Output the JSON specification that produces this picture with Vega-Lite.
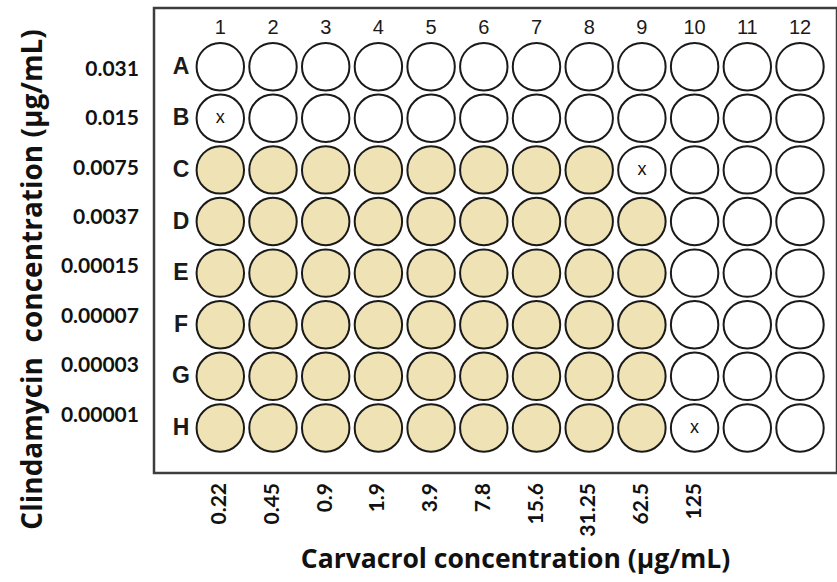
{
  "$schema": "https://vega.github.io/schema/vega-lite/v6.json",
  "width": 683,
  "height": 465,
  "autosize": {"type": "none"},
  "padding": {"left": 154, "top": 8, "right": 0, "bottom": 109},
  "background": "white",
  "config": {
    "view": {"stroke": "#3d3d3d", "strokeWidth": 2.5}
  },
  "datasets": {
    "wells": [
      {"row": 1, "col": 1, "state": "clear"}, {"row": 1, "col": 2, "state": "clear"}, {"row": 1, "col": 3, "state": "clear"}, {"row": 1, "col": 4, "state": "clear"}, {"row": 1, "col": 5, "state": "clear"}, {"row": 1, "col": 6, "state": "clear"}, {"row": 1, "col": 7, "state": "clear"}, {"row": 1, "col": 8, "state": "clear"}, {"row": 1, "col": 9, "state": "clear"}, {"row": 1, "col": 10, "state": "clear"}, {"row": 1, "col": 11, "state": "clear"}, {"row": 1, "col": 12, "state": "clear"},
      {"row": 2, "col": 1, "state": "clear", "note": "x"}, {"row": 2, "col": 2, "state": "clear"}, {"row": 2, "col": 3, "state": "clear"}, {"row": 2, "col": 4, "state": "clear"}, {"row": 2, "col": 5, "state": "clear"}, {"row": 2, "col": 6, "state": "clear"}, {"row": 2, "col": 7, "state": "clear"}, {"row": 2, "col": 8, "state": "clear"}, {"row": 2, "col": 9, "state": "clear"}, {"row": 2, "col": 10, "state": "clear"}, {"row": 2, "col": 11, "state": "clear"}, {"row": 2, "col": 12, "state": "clear"},
      {"row": 3, "col": 1, "state": "growth"}, {"row": 3, "col": 2, "state": "growth"}, {"row": 3, "col": 3, "state": "growth"}, {"row": 3, "col": 4, "state": "growth"}, {"row": 3, "col": 5, "state": "growth"}, {"row": 3, "col": 6, "state": "growth"}, {"row": 3, "col": 7, "state": "growth"}, {"row": 3, "col": 8, "state": "growth"}, {"row": 3, "col": 9, "state": "clear", "note": "x"}, {"row": 3, "col": 10, "state": "clear"}, {"row": 3, "col": 11, "state": "clear"}, {"row": 3, "col": 12, "state": "clear"},
      {"row": 4, "col": 1, "state": "growth"}, {"row": 4, "col": 2, "state": "growth"}, {"row": 4, "col": 3, "state": "growth"}, {"row": 4, "col": 4, "state": "growth"}, {"row": 4, "col": 5, "state": "growth"}, {"row": 4, "col": 6, "state": "growth"}, {"row": 4, "col": 7, "state": "growth"}, {"row": 4, "col": 8, "state": "growth"}, {"row": 4, "col": 9, "state": "growth"}, {"row": 4, "col": 10, "state": "clear"}, {"row": 4, "col": 11, "state": "clear"}, {"row": 4, "col": 12, "state": "clear"},
      {"row": 5, "col": 1, "state": "growth"}, {"row": 5, "col": 2, "state": "growth"}, {"row": 5, "col": 3, "state": "growth"}, {"row": 5, "col": 4, "state": "growth"}, {"row": 5, "col": 5, "state": "growth"}, {"row": 5, "col": 6, "state": "growth"}, {"row": 5, "col": 7, "state": "growth"}, {"row": 5, "col": 8, "state": "growth"}, {"row": 5, "col": 9, "state": "growth"}, {"row": 5, "col": 10, "state": "clear"}, {"row": 5, "col": 11, "state": "clear"}, {"row": 5, "col": 12, "state": "clear"},
      {"row": 6, "col": 1, "state": "growth"}, {"row": 6, "col": 2, "state": "growth"}, {"row": 6, "col": 3, "state": "growth"}, {"row": 6, "col": 4, "state": "growth"}, {"row": 6, "col": 5, "state": "growth"}, {"row": 6, "col": 6, "state": "growth"}, {"row": 6, "col": 7, "state": "growth"}, {"row": 6, "col": 8, "state": "growth"}, {"row": 6, "col": 9, "state": "growth"}, {"row": 6, "col": 10, "state": "clear"}, {"row": 6, "col": 11, "state": "clear"}, {"row": 6, "col": 12, "state": "clear"},
      {"row": 7, "col": 1, "state": "growth"}, {"row": 7, "col": 2, "state": "growth"}, {"row": 7, "col": 3, "state": "growth"}, {"row": 7, "col": 4, "state": "growth"}, {"row": 7, "col": 5, "state": "growth"}, {"row": 7, "col": 6, "state": "growth"}, {"row": 7, "col": 7, "state": "growth"}, {"row": 7, "col": 8, "state": "growth"}, {"row": 7, "col": 9, "state": "growth"}, {"row": 7, "col": 10, "state": "clear"}, {"row": 7, "col": 11, "state": "clear"}, {"row": 7, "col": 12, "state": "clear"},
      {"row": 8, "col": 1, "state": "growth"}, {"row": 8, "col": 2, "state": "growth"}, {"row": 8, "col": 3, "state": "growth"}, {"row": 8, "col": 4, "state": "growth"}, {"row": 8, "col": 5, "state": "growth"}, {"row": 8, "col": 6, "state": "growth"}, {"row": 8, "col": 7, "state": "growth"}, {"row": 8, "col": 8, "state": "growth"}, {"row": 8, "col": 9, "state": "growth"}, {"row": 8, "col": 10, "state": "clear", "note": "x"}, {"row": 8, "col": 11, "state": "clear"}, {"row": 8, "col": 12, "state": "clear"}
    ],
    "rows": [
      {"row": 1, "letter": "A", "clindamycin": "0.031"},
      {"row": 2, "letter": "B", "clindamycin": "0.015"},
      {"row": 3, "letter": "C", "clindamycin": "0.0075"},
      {"row": 4, "letter": "D", "clindamycin": "0.0037"},
      {"row": 5, "letter": "E", "clindamycin": "0.00015"},
      {"row": 6, "letter": "F", "clindamycin": "0.00007"},
      {"row": 7, "letter": "G", "clindamycin": "0.00003"},
      {"row": 8, "letter": "H", "clindamycin": "0.00001"}
    ],
    "cols": [
      {"col": 1, "carvacrol": "0.22"},
      {"col": 2, "carvacrol": "0.45"},
      {"col": 3, "carvacrol": "0.9"},
      {"col": 4, "carvacrol": "1.9"},
      {"col": 5, "carvacrol": "3.9"},
      {"col": 6, "carvacrol": "7.8"},
      {"col": 7, "carvacrol": "15.6"},
      {"col": 8, "carvacrol": "31.25"},
      {"col": 9, "carvacrol": "62.5"},
      {"col": 10, "carvacrol": "125"},
      {"col": 11, "carvacrol": ""},
      {"col": 12, "carvacrol": ""}
    ]
  },
  "resolve": {"scale": {"y": "independent"}},
  "layer": [
    {
      "layer": [
        {
          "data": {"name": "wells"},
          "mark": {"type": "point", "shape": "circle", "filled": true, "size": 2250, "stroke": "#1a1a1a", "strokeWidth": 2, "opacity": 1},
          "encoding": {
            "x": {
              "field": "col", "type": "quantitative",
              "scale": {"domain": [-0.258, 12.702], "nice": false, "zero": false},
              "axis": {
                "title": "Carvacrol concentration (μg/mL)",
                "labels": false, "ticks": false, "domain": false, "grid": false,
                "titleX": 361, "titleY": 86, "titleAlign": "center", "titleBaseline": "middle",
                "titleFont": "Open Sans", "titleFontSize": 26.5, "titleFontWeight": "bold", "titleColor": "#111111"
              }
            },
            "y": {
              "field": "row", "type": "quantitative",
              "scale": {"domain": [-0.137, 8.873], "nice": false, "zero": false, "reverse": true},
              "axis": {
                "title": "Clindamycin\u00a0 concentration (μg/mL)",
                "labels": false, "ticks": false, "domain": false, "grid": false,
                "titleX": -121, "titleY": 271, "titleAngle": -90, "titleAlign": "center", "titleBaseline": "middle",
                "titleFont": "Open Sans", "titleFontSize": 28, "titleFontWeight": "bold", "titleColor": "#111111"
              }
            },
            "fill": {
              "field": "state", "type": "nominal",
              "scale": {"domain": ["growth", "clear"], "range": ["#efe2b4", "#ffffff"]},
              "legend": null
            }
          }
        },
        {
          "data": {"name": "wells"},
          "transform": [{"filter": "isValid(datum.note)"}],
          "mark": {"type": "text", "font": "Liberation Sans", "fontSize": 18, "color": "#111111", "baseline": "middle"},
          "encoding": {
            "x": {"field": "col", "type": "quantitative"},
            "y": {"field": "row", "type": "quantitative"},
            "text": {"field": "note"}
          }
        },
        {
          "data": {"name": "cols"},
          "mark": {"type": "text", "font": "Liberation Sans", "fontSize": 20, "color": "#1a1a1a", "baseline": "middle"},
          "encoding": {
            "x": {"field": "col", "type": "quantitative"},
            "y": {"datum": 0.25, "type": "quantitative"},
            "text": {"field": "col", "type": "quantitative"}
          }
        },
        {
          "data": {"name": "rows"},
          "mark": {"type": "text", "font": "Liberation Sans", "fontSize": 23, "fontWeight": "bold", "color": "#1a1a1a", "baseline": "middle"},
          "encoding": {
            "x": {"datum": 0.254, "type": "quantitative"},
            "y": {"field": "row", "type": "quantitative"},
            "text": {"field": "letter"}
          }
        },
        {
          "data": {"name": "cols"},
          "mark": {"type": "text", "font": "Lato", "fontSize": 21, "fontWeight": "bold", "color": "#111111", "angle": 270, "align": "right", "baseline": "middle"},
          "encoding": {
            "x": {"field": "col", "type": "quantitative"},
            "y": {"datum": 9.066, "type": "quantitative"},
            "text": {"field": "carvacrol"}
          }
        }
      ]
    },
    {
      "data": {"name": "rows"},
      "mark": {"type": "text", "font": "Lato", "fontSize": 21, "fontWeight": "bold", "color": "#111111", "align": "right", "baseline": "middle"},
      "encoding": {
        "x": {"datum": -0.543, "type": "quantitative"},
        "y": {
          "field": "row", "type": "quantitative",
          "scale": {"domain": [-0.256, 9.164], "nice": false, "zero": false, "reverse": true},
          "axis": null
        },
        "text": {"field": "clindamycin"}
      }
    }
  ]
}
